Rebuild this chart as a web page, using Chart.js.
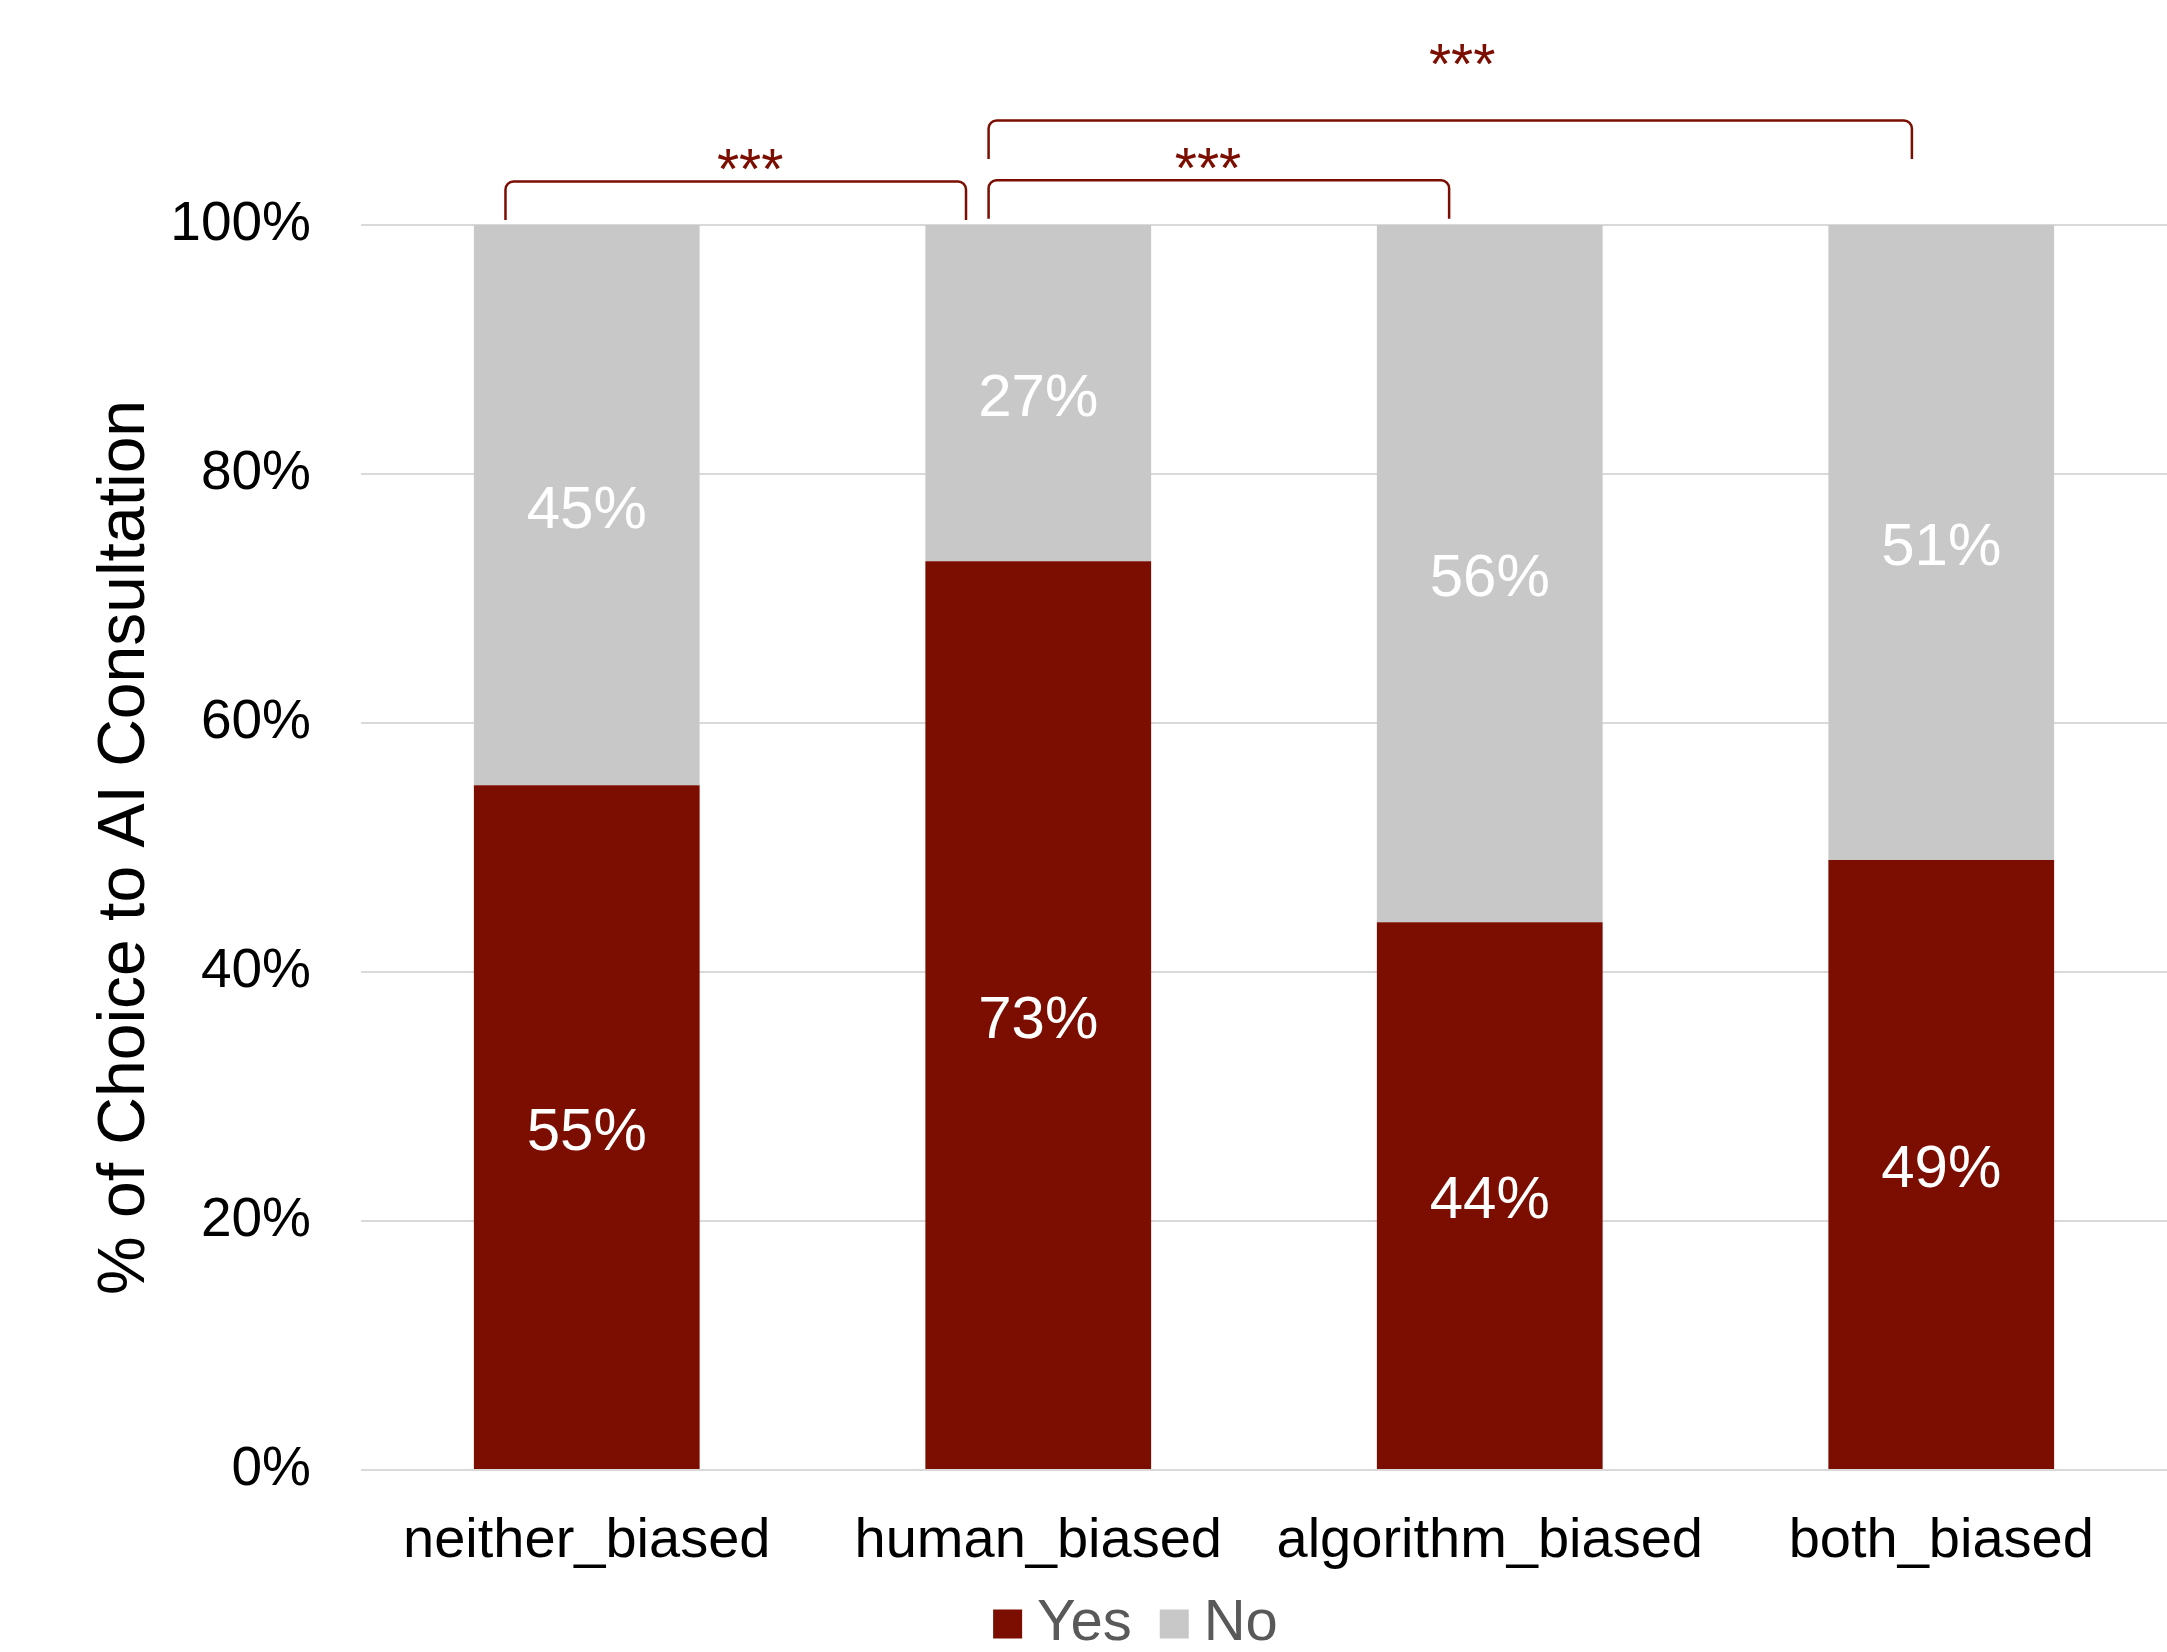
<!DOCTYPE html>
<html>
<head>
<meta charset="utf-8">
<script src="https://cdn.jsdelivr.net/npm/chart.js@4"></script>
<style>
    body { margin: 0; background: #ffffff; }
    canvas { display: block; }
</style>
</head>
<body>
<canvas id="grafico" width="2167" height="1652"></canvas>
<script>
// Datos del gráfico
const categorias = ['neither_biased', 'human_biased', 'algorithm_biased', 'both_biased'];
const valoresYes = [55, 73, 44, 49];
const valoresNo = [45, 27, 56, 51];
const ticksY = [0, 20, 40, 60, 80, 100];

// Comparaciones significativas (en unidades del eje: índice de categoría y %)
const llaveInicio = [-0.18, 0.89, 0.89];
const llaveFin = [0.84, 1.91, 2.935];
const llaveNivel = [103.5, 103.6, 108.4];
const llaveBase = [100.4, 100.5, 105.3];
const estrellasX = [0.362, 1.376, 1.939];
const estrellasY = [105.5, 105.6, 113.9];
const estrellasTexto = ['***', '***', '***'];

const ROJO = '#7B0E00';
const GRIS = '#C8C8C8';
const FUENTE = "'Liberation Sans', Arial, sans-serif";

// Etiquetas blancas dentro de cada segmento
const etiquetasBarras = {
    id: 'etiquetasBarras',
    afterDatasetsDraw(chart) {
        const ctx = chart.ctx;
        ctx.save();
        ctx.fillStyle = '#ffffff';
        ctx.font = `60px ${FUENTE}`;
        ctx.textAlign = 'center';
        ctx.textBaseline = 'middle';
        chart.data.datasets.forEach((ds, i) => {
            chart.getDatasetMeta(i).data.forEach((bar, j) => {
                const y = (bar.y + bar.base) / 2;
                ctx.fillText(ds.data[j] + '%', bar.x, y + 6);
            });
        });
        ctx.restore();
    }
};

// Llaves de significancia sobre las barras
const llaves = {
    id: 'llaves',
    afterDraw(chart) {
        const ctx = chart.ctx;
        const x = chart.scales.x;
        const y = chart.scales.y;
        ctx.save();
        ctx.strokeStyle = ROJO;
        ctx.lineWidth = 2.5;
        llaveInicio.forEach((ini, i) => {
            const x1 = x.getPixelForValue(ini);
            const x2 = x.getPixelForValue(llaveFin[i]);
            const yTop = y.getPixelForValue(llaveNivel[i]);
            const yBase = y.getPixelForValue(llaveBase[i]);
            const r = 8;
            ctx.beginPath();
            ctx.moveTo(x1, yBase);
            ctx.arcTo(x1, yTop, x1 + r, yTop, r);
            ctx.lineTo(x2 - r, yTop);
            ctx.arcTo(x2, yTop, x2, yBase, r);
            ctx.lineTo(x2, yBase);
            ctx.stroke();
        });
        const tam = 57;
        ctx.fillStyle = ROJO;
        ctx.font = `${tam}px ${FUENTE}`;
        ctx.textAlign = 'center';
        ctx.textBaseline = 'alphabetic';
        estrellasX.forEach((ex, i) => {
            const px = x.getPixelForValue(ex);
            const py = y.getPixelForValue(estrellasY[i]);
            ctx.fillText(estrellasTexto[i], px, py + tam * 0.57);
        });
        ctx.restore();
    }
};

// Ajuste de la posición de la leyenda (sólo se sube el borde superior)
const moverLeyenda = {
    id: 'moverLeyenda',
    afterLayout(chart) {
        const leyenda = chart.legend;
        leyenda.left += 59;
        leyenda.right += 59;
        leyenda.top -= 24;
    }
};

const ctx = document.getElementById('grafico').getContext('2d');
const grafico = new Chart(ctx, {
    type: 'bar',
    data: {
        labels: categorias,
        datasets: [
            { label: 'Yes', data: valoresYes, backgroundColor: ROJO, borderWidth: 0 },
            { label: 'No', data: valoresNo, backgroundColor: GRIS, borderWidth: 0 }
        ]
    },
    options: {
        responsive: false,
        animation: false,
        devicePixelRatio: 1,
        layout: { padding: { top: 225, left: 0, right: 0, bottom: 0 } },
        datasets: {
            bar: { barPercentage: 1, categoryPercentage: 0.5 }
        },
        plugins: {
            tooltip: { enabled: false },
            legend: {
                position: 'bottom',
                maxHeight: 75,
                labels: {
                    usePointStyle: true,
                    pointStyle: 'rect',
                    boxWidth: 1,
                    boxHeight: 29,
                    padding: 42,
                    color: '#595959',
                    font: { family: FUENTE, size: 58 }
                }
            }
        },
        scales: {
            x: {
                stacked: true,
                grid: { display: false },
                border: { display: false },
                ticks: {
                    color: '#000000',
                    padding: 30,
                    maxRotation: 0,
                    font: { family: FUENTE, size: 56 }
                },
                afterFit: s => { s.height = 107; }
            },
            y: {
                stacked: true,
                min: 0,
                max: 100,
                afterBuildTicks: s => { s.ticks = ticksY.map(v => ({ value: v })); },
                grid: { color: '#D9D9D9', lineWidth: 2, drawTicks: false },
                border: { display: false },
                ticks: {
                    color: '#000000',
                    padding: 50,
                    font: { family: FUENTE, size: 55 },
                    callback: v => v + '%'
                },
                title: {
                    display: true,
                    text: '% of Choice to AI Consultation',
                    color: '#000000',
                    padding: { top: 86, bottom: 0 },
                    font: { family: FUENTE, size: 66 }
                },
                afterFit: s => { s.width = 361; }
            }
        }
    },
    plugins: [etiquetasBarras, llaves, moverLeyenda]
});
</script>
</body>
</html>
